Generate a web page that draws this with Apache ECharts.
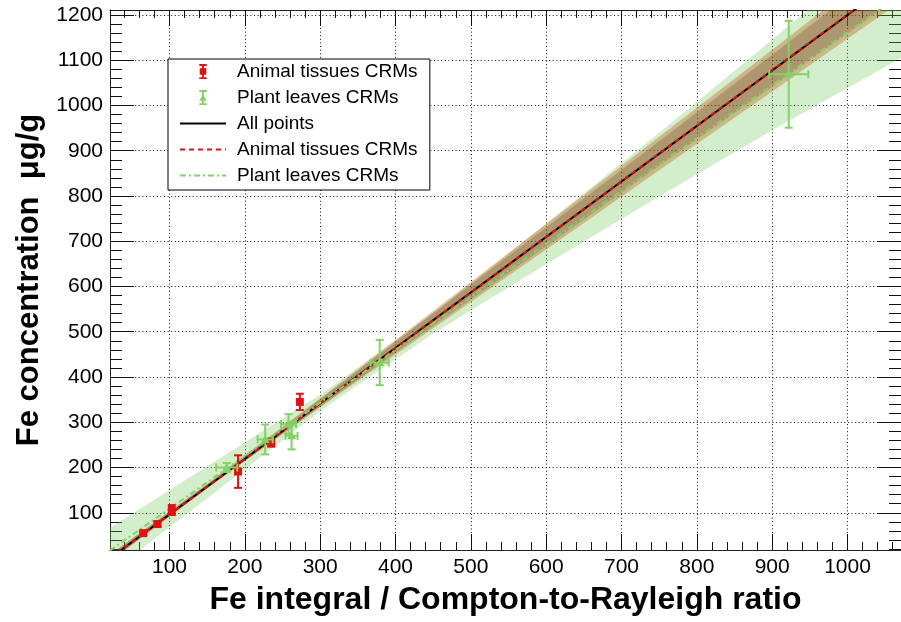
<!DOCTYPE html>
<html>
<head>
<meta charset="utf-8">
<script src="https://cdn.jsdelivr.net/npm/echarts@6/dist/echarts.min.js"></script>
<style>
  html, body { margin: 0; padding: 0; background: #fff; }
  #chart { width: 901px; height: 622px; }
</style>
</head>
<body>
<div id="chart"></div>
<script>
// ---- measured reference samples (CRMs) ----
const animalX    = [65, 84, 103, 191, 235, 273];
const animalY    = [55, 75, 106, 191, 255, 345];
const animalXErr = [0, 0, 0, 0, 0, 0];
const animalYErr = [4, 5, 11, 36, 9, 18];

const plantX    = [176, 227, 258, 262, 379, 922];
const plantY    = [200, 262, 296, 270, 432, 1069];
const plantXErr = [14, 10, 10, 8, 12, 26];
const plantYErr = [10, 33, 22, 30, 50, 118];

// ---- linear calibration fits ----
const fitX       = [21, 1071];
const allFitY    = [-0.5, 1287];
const animalFitY = [-1, 1288];
const plantFitY  = [16.6, 1245];

// ---- confidence bands (lower / upper edge at each knot) ----
const bandX    = [21, 150, 300, 450, 600, 750, 900, 1071];
const plantLo  = [-33, 132, 325, 496, 649, 799, 945, 1105];
const plantHi  = [67, 203, 361, 541, 739, 940, 1145, 1385];
const animalLo = [-8, 154, 333, 508, 682, 857, 1031, 1230];
const animalHi = [8, 164, 353, 546, 738, 931, 1123, 1344];
const allLo    = [-7, 155, 335, 513, 689, 867, 1042, 1243];
const allHi    = [7, 163, 351, 541, 731, 921, 1112, 1331];

// ---- axis ranges and tick labels ----
const xRange = [21, 1071];
const yRange = [17.7, 1211];
const xMajor = [100, 200, 300, 400, 500, 600, 700, 800, 900, 1000];
const yMajor = [100, 200, 300, 400, 500, 600, 700, 800, 900, 1000, 1100, 1200];

const FONT = '"Liberation Sans", Arial, Helvetica, sans-serif';
const RED = '#e01212';
const GREEN = '#82d266';

function minorTicks(lo, hi, step) {
  const out = [];
  for (let v = Math.ceil(lo / step) * step; v <= hi; v += step) out.push(v);
  return out;
}
const xMinor = minorTicks(xRange[0], xRange[1], 20);
const yMinor = minorTicks(yRange[0], yRange[1], 20);

function axis(position, range, ticks, len, extra) {
  return Object.assign({
    type: 'value', position: position, min: range[0], max: range[1],
    axisLine: { show: false },
    axisTick: { show: true, inside: true, length: len, customValues: ticks,
                lineStyle: { color: '#111', width: 1 } },
    axisLabel: { show: false },
    splitLine: { show: false }
  }, extra || {});
}

const frameLine = { show: true, lineStyle: { color: '#222', width: 1 } };
const gridDots = { show: true, lineStyle: { color: '#111', width: 1, type: [1, 2.6] } };
const tickText = { show: true, fontFamily: FONT, fontSize: 21, color: '#000',
                   formatter: v => String(v) };

const xAxes = [
  axis('bottom', xRange, xMajor, 16, {
    axisLine: frameLine, splitLine: gridDots,
    axisLabel: Object.assign({ customValues: xMajor, margin: 7 }, tickText),
    name: 'Fe integral / Compton-to-Rayleigh ratio', nameLocation: 'middle', nameGap: 34,
    nameTextStyle: { fontFamily: FONT, fontSize: 32, fontWeight: 'bold', color: '#000' }
  }),
  axis('bottom', xRange, xMinor, 8),
  axis('top', xRange, xMajor, 16, { axisLine: frameLine }),
  axis('top', xRange, xMinor, 8)
];
const yAxes = [
  axis('left', yRange, yMajor, 24, {
    axisLine: frameLine, splitLine: gridDots,
    axisLabel: Object.assign({ customValues: yMajor, margin: 7 }, tickText),
    name: 'Fe concentration  \u03bcg/g', nameLocation: 'middle', nameGap: 52,
    nameTextStyle: { fontFamily: FONT, fontSize: 31, fontWeight: 'bold', color: '#000' }
  }),
  axis('left', yRange, yMinor, 12),
  axis('right', yRange, yMajor, 24, { axisLine: frameLine }),
  axis('right', yRange, yMinor, 12)
];

// A filled band as a single polygon: lower edge forward, upper edge back.
function bandSeries(xs, lo, hi, color) {
  const rows = xs.map((x, i) => [x, lo[i], hi[i]]);
  return {
    type: 'custom', silent: true, clip: true, z: 1,
    data: rows,
    encode: { x: 0, y: [1, 2] },
    renderItem: function (params, api) {
      if (params.dataIndex !== 0) return null;
      const pts = [];
      rows.forEach(r => pts.push(api.coord([r[0], r[1]])));
      for (let i = rows.length - 1; i >= 0; i--) pts.push(api.coord([rows[i][0], rows[i][2]]));
      return { type: 'polygon', shape: { points: pts }, style: { fill: color } };
    }
  };
}

function fitSeries(name, ys, color, type, z) {
  return {
    name: name, type: 'line', symbol: 'none', clip: true, z: z,
    data: fitX.map((x, i) => [x, ys[i]]),
    lineStyle: { color: color, width: 2, type: type },
    itemStyle: { color: color }
  };
}

function pointSeries(name, xs, ys, exs, eys, color, marker) {
  return {
    name: name, type: 'custom', z: 6,
    itemStyle: { color: color },
    data: xs.map((x, i) => [x, ys[i], exs[i], eys[i]]),
    encode: { x: 0, y: 1 },
    renderItem: function (params, api) {
      const x = api.value(0), y = api.value(1), ex = api.value(2), ey = api.value(3);
      const c = api.coord([x, y]);
      const st = { stroke: color, lineWidth: 2 };
      const cap = 4;
      const kids = [];
      if (ey > 0) {
        const t = api.coord([x, y + ey]), b = api.coord([x, y - ey]);
        kids.push({ type: 'line', shape: { x1: c[0], y1: t[1], x2: c[0], y2: b[1] }, style: st });
        kids.push({ type: 'line', shape: { x1: c[0] - cap, y1: t[1], x2: c[0] + cap, y2: t[1] }, style: st });
        kids.push({ type: 'line', shape: { x1: c[0] - cap, y1: b[1], x2: c[0] + cap, y2: b[1] }, style: st });
      }
      if (ex > 0) {
        const l = api.coord([x - ex, y]), r = api.coord([x + ex, y]);
        kids.push({ type: 'line', shape: { x1: l[0], y1: c[1], x2: r[0], y2: c[1] }, style: st });
        kids.push({ type: 'line', shape: { x1: l[0], y1: c[1] - cap, x2: l[0], y2: c[1] + cap }, style: st });
        kids.push({ type: 'line', shape: { x1: r[0], y1: c[1] - cap, x2: r[0], y2: c[1] + cap }, style: st });
      }
      if (marker === 'square') {
        kids.push({ type: 'rect', shape: { x: c[0] - 4, y: c[1] - 4, width: 8, height: 8 }, style: { fill: color } });
      } else {
        kids.push({ type: 'polygon', shape: { points: [[c[0], c[1] - 5], [c[0] + 4.5, c[1] + 3.5], [c[0] - 4.5, c[1] + 3.5]] }, style: { fill: color } });
      }
      return { type: 'group', children: kids };
    }
  };
}

// legend glyphs: error bar with caps and a square / triangle marker
const iconSquareBar = 'path://M0,0H8V2H0Z M3,0H5V16H3Z M0.5,4.5H7.5V11.5H0.5Z M0,14H8V16H0Z';
const iconTriBar = 'path://M0,0H8V2H0Z M3,0H5V16H3Z M4,4.5L8,11.5H0Z M0,14H8V16H0Z';
const hideSymbol = { opacity: 0 };

const chart = echarts.init(document.getElementById('chart'), null, { renderer: 'canvas' });
chart.setOption({
  animation: false,
  backgroundColor: '#fff',
  grid: { left: 110, right: -9, top: 10, bottom: 72, containLabel: false },
  xAxis: xAxes,
  yAxis: yAxes,
  legend: {
    orient: 'vertical', left: 168, top: 59,
    padding: [3, 7, 5, 11], itemGap: 7, itemWidth: 46, itemHeight: 15,
    backgroundColor: '#fff', borderColor: '#000', borderWidth: 1, borderRadius: 0,
    selectedMode: false,
    textStyle: { fontFamily: FONT, fontSize: 19, color: '#000', padding: [0, 0, 0, 6] },
    data: [
      { name: 'Animal tissues CRMs', icon: iconSquareBar },
      { name: 'Plant leaves CRMs', icon: iconTriBar },
      { name: 'All points', itemStyle: hideSymbol },
      { name: 'Animal tissues CRMs ', itemStyle: hideSymbol },
      { name: 'Plant leaves CRMs ', itemStyle: hideSymbol }
    ]
  },
  series: [
    bandSeries(bandX, plantLo, plantHi, 'rgba(110,200,80,0.30)'),
    bandSeries(bandX, animalLo, animalHi, 'rgba(190,85,25,0.36)'),
    bandSeries(bandX, allLo, allHi, 'rgba(50,25,0,0.20)'),
    fitSeries('All points', allFitY, '#000', 'solid', 3),
    fitSeries('Animal tissues CRMs ', animalFitY, RED, [5, 4], 4),
    fitSeries('Plant leaves CRMs ', plantFitY, GREEN, [6, 3, 2, 3], 4),
    pointSeries('Animal tissues CRMs', animalX, animalY, animalXErr, animalYErr, RED, 'square'),
    pointSeries('Plant leaves CRMs', plantX, plantY, plantXErr, plantYErr, GREEN, 'triangle')
  ]
});
</script>
</body>
</html>
